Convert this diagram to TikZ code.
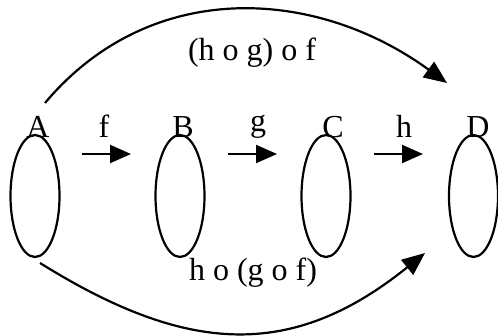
\documentclass[tikz,border=0pt]{standalone}
\usepackage{fontspec}
\setmainfont{Liberation Serif}
\usetikzlibrary{shapes.geometric,arrows.meta}
\begin{document}
\begin{tikzpicture}[x=1pt,y=-1pt,
  setbox/.style={ellipse,draw,line width=2.2pt,minimum width=49pt,minimum height=122pt,inner sep=0pt},
  lbl/.style={font=\fontsize{32}{36}\selectfont,inner sep=0pt},
  maparrow/.style={line width=2.2pt,-{Triangle[length=21pt,width=18pt]}},
  curvearrow/.style={line width=2.2pt,-{Triangle[length=23pt,width=19pt]}}]
\useasboundingbox (0,0) rectangle (498,336);
\node[setbox] (A) at (35,196) {};
\node[setbox] (B) at (180,196) {};
\node[setbox] (C) at (326,196) {};
\node[setbox] (D) at (473.5,196) {};
\node[lbl] (la) at (38,127) {A};
\node[lbl] (lb) at (183,127) {B};
\node[lbl] (lc) at (333,127) {C};
\node[lbl] (ld) at (478,127) {D};
\node[lbl] (lf) at (104,126) {f};
\node[lbl] (lg) at (258,127) {g};
\node[lbl] (lh) at (404,126) {h};
\coordinate (f1) at (82,154); \coordinate (f2) at (131,154);
\coordinate (g1) at (228,154); \coordinate (g2) at (277,154);
\coordinate (h1) at (374,154); \coordinate (h2) at (423,154);
\draw[maparrow] (f1) -- (f2);
\draw[maparrow] (g1) -- (g2);
\draw[maparrow] (h1) -- (h2);
\coordinate (ts) at (45,103); \coordinate (te) at (447,83);
\coordinate (bs) at (40,263); \coordinate (be) at (425,253);
\draw[curvearrow] (ts) .. controls (150,-22) and (315,-13) .. (te);
\draw[curvearrow] (bs) .. controls (186,354) and (291,361) .. (be);
\node[lbl] (top) at (252,53) {(h o g) o f};
\node[lbl] (bot) at (253,273) {h o (g o f)};
\end{tikzpicture}
\end{document}
